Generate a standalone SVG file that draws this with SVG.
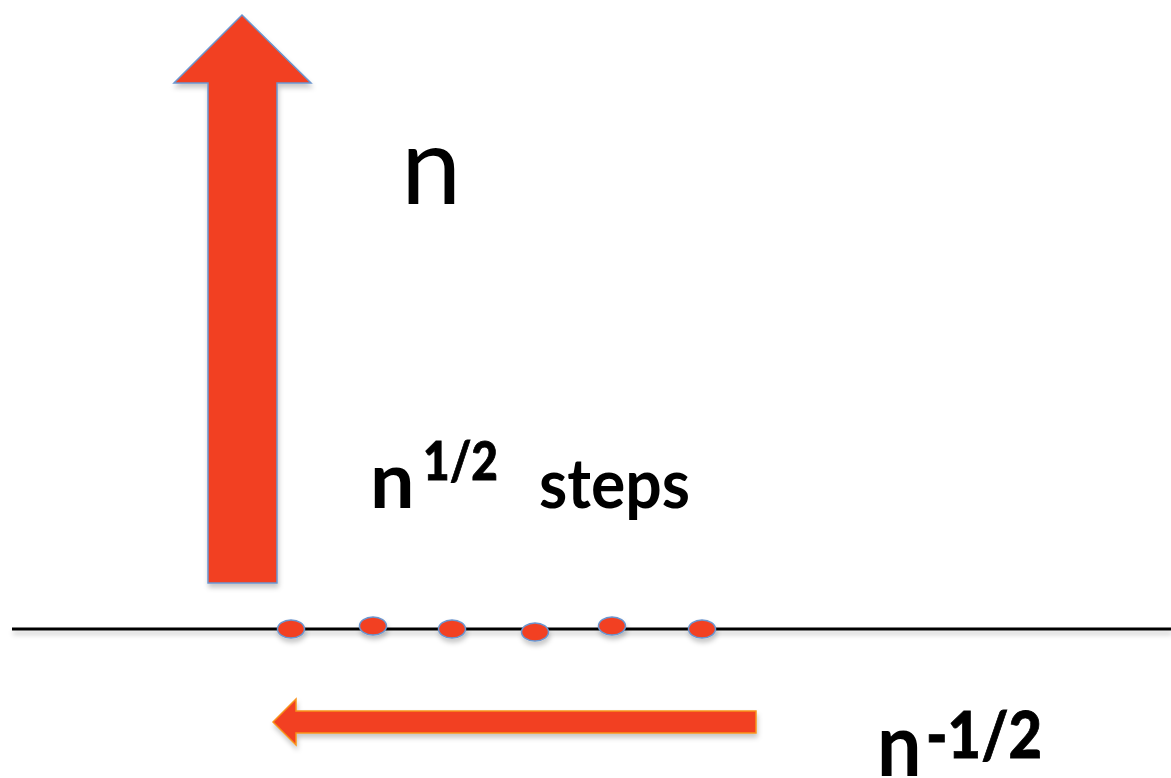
<svg xmlns="http://www.w3.org/2000/svg" width="1171" height="778" viewBox="0 0 1171 778">
  <style>
    .shape { fill: #F24122; }
    .blue { stroke: #6A95CF; stroke-width: 1.5; }
    .orange { stroke: #F7931E; stroke-width: 1.5; }
    .txt { font-family: Lato, "Open Sans", "Liberation Sans", sans-serif; fill: #000; }
    .b { font-weight: bold; }
    .sup { font-weight: 900; stroke: #000; stroke-width: 0.8; }
  </style>
  <defs>
    <filter id="sh" filterUnits="userSpaceOnUse" x="0" y="0" width="1171" height="778">
      <feDropShadow dx="1" dy="4" stdDeviation="2.5" flood-color="#000" flood-opacity="0.22"/>
    </filter>
  </defs>
  <rect width="1171" height="778" fill="#fff"/>

  <g id="axis">
    <rect x="12" y="627.5" width="1159" height="3" fill="#000" filter="url(#sh)"/>
  </g>

  <g id="up-arrow">
    <polygon class="shape blue" filter="url(#sh)" points="242,15 311,83 277,83 277,583 208,583 208,83 174,83"/>
  </g>

  <g id="left-arrow">
    <polygon class="shape orange" filter="url(#sh)" points="273,722 296,699 296,711 756,711 756,733 296,733 296,745"/>
  </g>

  <g id="dots">
    <ellipse class="shape blue" filter="url(#sh)" cx="291" cy="629" rx="13.5" ry="9"/>
    <ellipse class="shape blue" filter="url(#sh)" cx="373" cy="626" rx="13.5" ry="9"/>
    <ellipse class="shape blue" filter="url(#sh)" cx="452" cy="629" rx="13.5" ry="9"/>
    <ellipse class="shape blue" filter="url(#sh)" cx="535" cy="632" rx="13.5" ry="9"/>
    <ellipse class="shape blue" filter="url(#sh)" cx="612" cy="626" rx="13.5" ry="9"/>
    <ellipse class="shape blue" filter="url(#sh)" cx="702" cy="629" rx="13.5" ry="9"/>
  </g>

  <g id="label-n">
    <text class="txt" x="401" y="204" font-size="108">n</text>
  </g>

  <g id="label-steps">
    <text class="txt b" x="370" y="508" font-size="79">n</text>
    <text class="txt sup" x="423" y="480" font-size="53" textLength="75" lengthAdjust="spacingAndGlyphs">1/2</text>
    <text class="txt b" x="539" y="508" font-size="69" textLength="151" lengthAdjust="spacingAndGlyphs">steps</text>
  </g>

  <g id="label-inv">
    <text class="txt b" transform="translate(877,776) scale(1,1.12)" font-size="79">n</text>
    <text class="txt sup" x="926" y="758" font-size="64" textLength="116" lengthAdjust="spacingAndGlyphs">-1/2</text>
  </g>
</svg>
